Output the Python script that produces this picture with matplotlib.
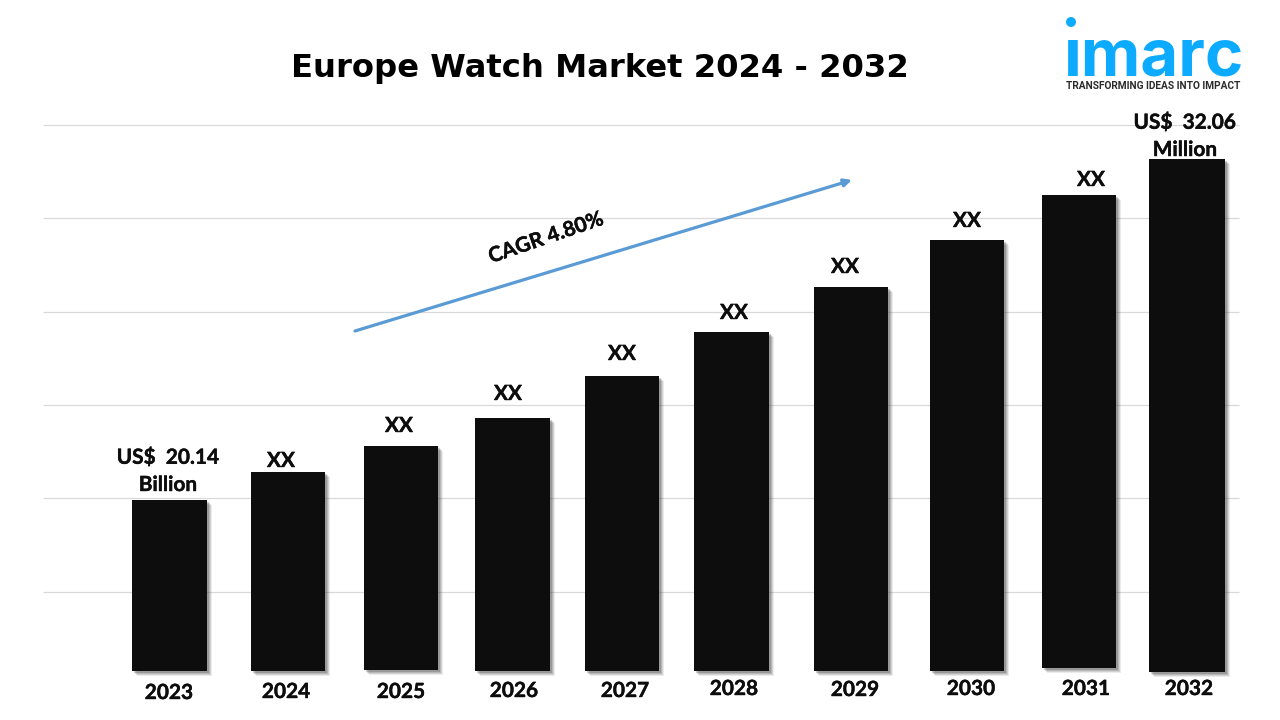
import matplotlib
matplotlib.use("Agg")
import matplotlib.pyplot as plt
import matplotlib.patheffects as pe
from matplotlib.patches import Circle
from matplotlib.transforms import Affine2D

# bar heights (no usable value axis in the original)
years = ["2023", "2024", "2025", "2026", "2027", "2028", "2029", "2030", "2031", "2032"]
heights = [171, 199, 224, 253, 295, 339, 384, 431, 473, 513]
bottoms = [0, 0, 1, 0, 0, 0, 0, 0, 3, -1]
value_labels = ["US$  20.14\nBillion", "XX", "XX", "XX", "XX", "XX", "XX", "XX", "XX", "US$  32.06\nMillion"]
grid_levels = [79, 173, 266, 359, 453, 546]

# layout, in pixels of the 1280 wide canvas
bar_lefts = [132, 251, 364, 475, 585, 694, 814, 930, 1042, 1149]
bar_widths = [75, 74, 74, 75, 74, 75, 74, 74, 74, 76]
label_x = [168, 281, 399, 508, 622, 734, 845, 967, 1091, 1185]
label_gap = [5, 1, 10, 14, 12, 9, 10, 9, 5, -1]
year_x = [169, 286, 401, 514, 625, 734, 855, 971, 1086, 1189]
year_y = [-22, -21, -21, -20, -20, -18, -19, -18, -18, -18]

BAR = "#0d0d0d"
BLUE = "#5b9bd5"
LOGO = "#0dabff"
heavy = [pe.withStroke(linewidth=0.3, foreground=BAR)]

fig = plt.figure(figsize=(12.8, 7.2), dpi=100, facecolor="white")
ax = fig.add_axes([0, 0, 1, 1])
ax.set_xlim(0, 1280)
ax.set_ylim(-49, 671)
ax.axis("off")

ax.hlines(grid_levels, 43, 1239, color="#d9d9d9", lw=0.9, zorder=1)

# soft shadow, then the bars
for off, alpha in [(5, 0.10), (4, 0.14), (3, 0.18), (2, 0.25)]:
    ax.bar(bar_lefts, heights, width=bar_widths, bottom=[b - off for b in bottoms], align="edge",
           color="#404040", alpha=alpha, lw=0, zorder=2, transform=Affine2D().translate(off, 0) + ax.transData)
ax.bar(bar_lefts, heights, width=bar_widths, bottom=bottoms, align="edge", color=BAR, lw=0, zorder=3)

for i, label in enumerate(value_labels):
    top = heights[i] + bottoms[i]
    ax.text(label_x[i], top + label_gap[i], label, ha="center", va="bottom", fontsize=15, linespacing=1.45,
            family="Lato", weight="bold", color=BAR, zorder=4, path_effects=heavy)
for x, y, year in zip(year_x, year_y, years):
    ax.text(x, y, year, ha="center", va="center", fontsize=15, family="Lato", weight="bold", color=BAR,
            zorder=4, path_effects=heavy)

ax.text(600, 603, "Europe Watch Market 2024 - 2032", ha="center", va="center", fontsize=23.2,
        family="DejaVu Sans", weight="bold", color="black")

# CAGR arrow
ax.annotate("", xy=(852, 491), xytext=(355, 340), zorder=5,
            arrowprops=dict(arrowstyle="-|>,head_width=0.22,head_length=0.45", color=BLUE, lw=2.3, shrinkA=0, shrinkB=0))
ax.text(546, 433, "CAGR 4.80%", ha="center", va="center", rotation=19, rotation_mode="anchor",
        fontsize=15, family="Lato", weight="bold", color=BAR, zorder=5, path_effects=heavy)

# logo
ax.text(1153.5, 612, "\u0131marc", ha="center", va="center", fontsize=47, family="Inter", weight="bold", color=LOGO)
ax.add_patch(Circle((1071, 649), 5, color=LOGO, lw=0))
ax.text(1153.5, 585, "TRANSFORMING IDEAS INTO IMPACT", ha="center", va="center", fontsize=7.3,
        family="Roboto", weight="bold", color="#2b2b2b")

fig.savefig("out.png", dpi=100)
